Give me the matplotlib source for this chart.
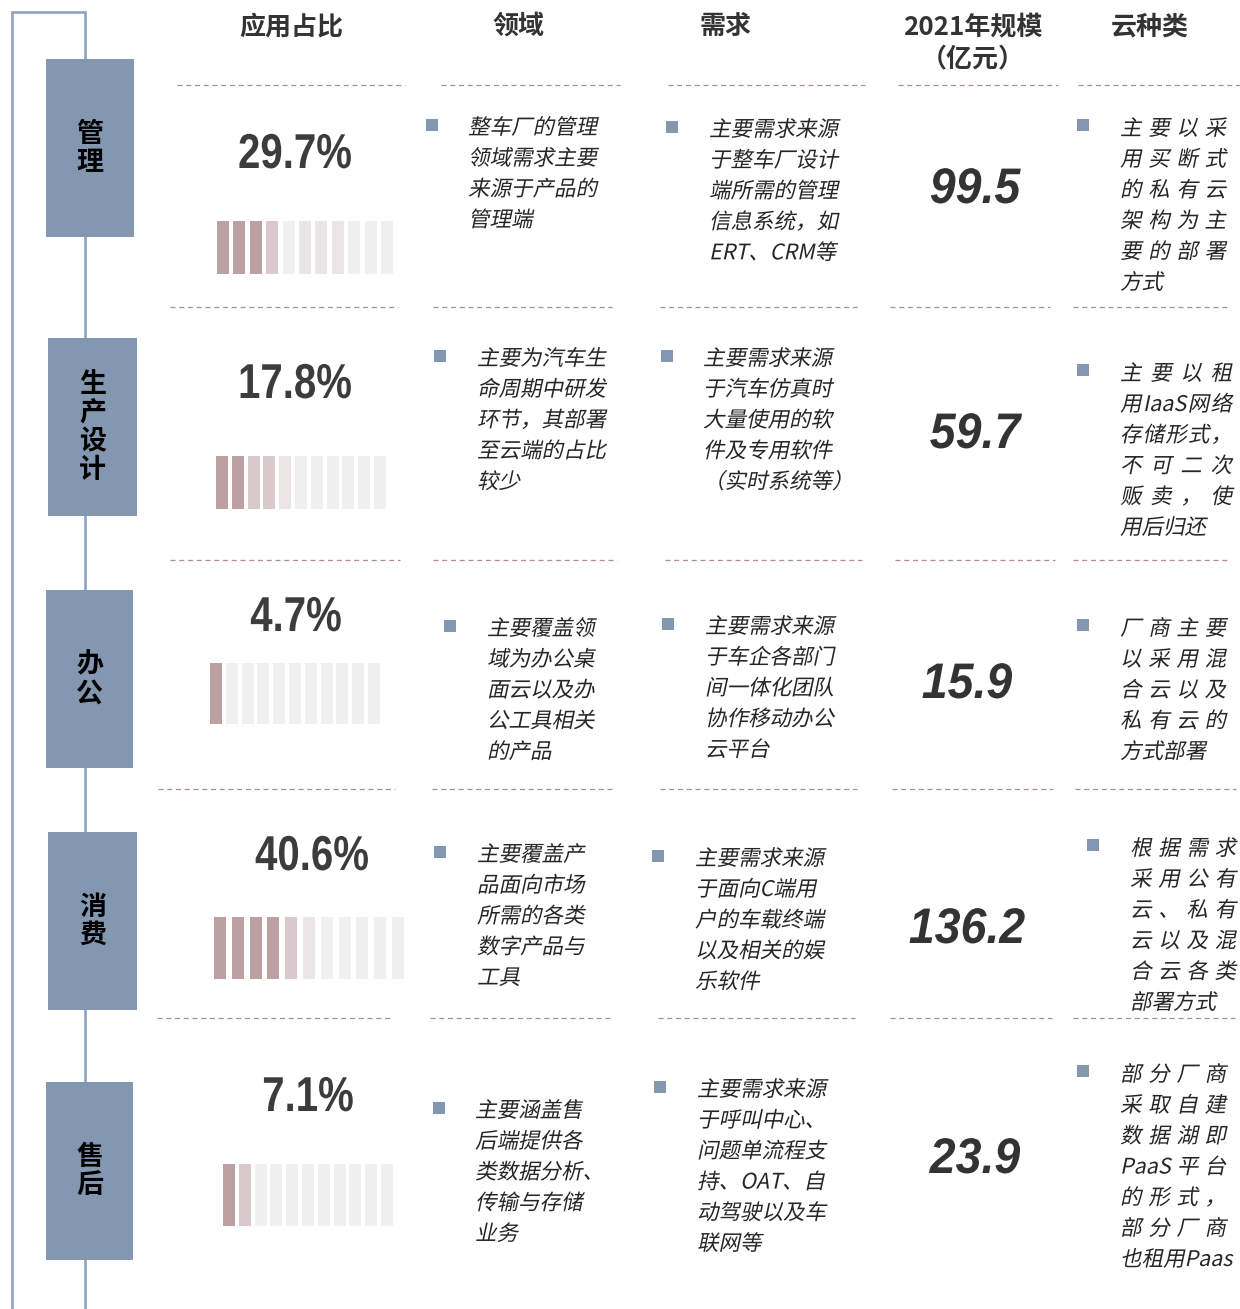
import matplotlib
matplotlib.use("Agg")
import matplotlib.pyplot as plt
import matplotlib.transforms as mtransforms
from matplotlib.textpath import TextPath, TextToPath
from matplotlib.patches import PathPatch, Rectangle
from matplotlib.font_manager import FontProperties

# ---- data ----
fields = ["管理", "生产设计", "办公", "消费", "售后"]
shares = [29.7, 17.8, 4.7, 40.6, 7.1]
scale_2021 = [99.5, 59.7, 15.9, 136.2, 23.9]
headers = ["应用占比", "领域", "需求", "2021年规模\n（亿元）", "云种类"]

# shade level of each of the 11 small bars (3 = dark ... 0 = grey)
bar_levels = [
    [3, 3, 3, 2, 0, 1, 1, 1, 0, 0, 0],
    [3, 3, 2, 2, 1, 0, 0, 0, 0, 0, 0],
    [3, 0, 0, 0, 0, 0, 0, 0, 0, 0, 0],
    [3, 3, 3, 3, 2, 1, 0, 0, 0, 0, 0],
    [3, 2, 0, 0, 0, 0, 0, 0, 0, 0, 0],
]

domain_text = [
    ["整车厂的管理", "领域需求主要", "来源于产品的", "管理端"],
    ["主要为汽车生", "命周期中研发", "环节，其部署", "至云端的占比", "较少"],
    ["主要覆盖领", "域为办公桌", "面云以及办", "公工具相关", "的产品"],
    ["主要覆盖产", "品面向市场", "所需的各类", "数字产品与", "工具"],
    ["主要涵盖售", "后端提供各", "类数据分析、", "传输与存储", "业务"],
]
demand_text = [
    ["主要需求来源", "于整车厂设计", "端所需的管理", "信息系统，如", "ERT、CRM等"],
    ["主要需求来源", "于汽车仿真时", "大量使用的软", "件及专用软件", "（实时系统等）"],
    ["主要需求来源", "于车企各部门", "间一体化团队", "协作移动办公", "云平台"],
    ["主要需求来源", "于面向C端用", "户的车载终端", "以及相关的娱", "乐软件"],
    ["主要需求来源", "于呼叫中心、", "问题单流程支", "持、OAT、自", "动驾驶以及车", "联网等"],
]
cloud_text = [
    ["主要以采", "用买断式", "的私有云", "架构为主", "要的部署", "方式"],
    ["主要以租", "用IaaS网络", "存储形式，", "不可二次", "贩卖，使", "用后归还"],
    ["厂商主要", "以采用混", "合云以及", "私有云的", "方式部署"],
    ["根据需求", "采用公有", "云、私有", "云以及混", "合云各类", "部署方式"],
    ["部分厂商", "采取自建", "数据湖即", "PaaS平台", "的形式，", "部分厂商", "也租用Paas"],
]

# ---- layout (pixels) ----
W, H = 1240, 1309
box_color = "#8497B0"
frame_color = "#8EA3C0"
dash_color = "#B58B8C"
shade = {3: "#BDA1A2", 2: "#D9C9CA", 1: "#EBE5E5", 0: "#F0F0F0"}

box_y = [59, 338, 590, 832, 1082]
box_x = [46, 48, 46, 48, 46]
box_w = [88, 89, 87, 89, 87]
box_h = 178

pct_pos = [(295, 168), (295, 398), (296, 631), (312, 870), (308, 1111)]
bar_pos = [(217, 221, 53), (216, 456, 53), (210, 663, 61), (214, 917, 62), (223, 1164, 62)]
bar_pitch = [16.4, 15.8, 15.8, 17.8, 15.8]
scale_pos = [(975, 203), (975, 448), (967, 698), (967, 943), (975, 1173)]

dom_pos = [(432, 468, 126), (440, 477, 357), (450, 487, 627), (440, 477, 853), (439, 475, 1109)]
dem_pos = [(672, 709, 128), (667, 703, 357), (668, 705, 625), (658, 695, 857), (660, 697, 1088)]
cld_pos = [(1083, 1120, 127), (1083, 1120, 372), (1083, 1120, 627), (1093, 1130, 847), (1083, 1120, 1073)]
cld_width = [106, 112, 106, 106, 106]
line_gap = 30.8

dash_rows = [
    (85, [(177, 405), (441, 620), (668, 865), (898, 1058), (1078, 1240)]),
    (307, [(170, 398), (433, 612), (660, 857), (890, 1050), (1073, 1228)]),
    (560, [(170, 400), (433, 617), (665, 862), (895, 1055), (1073, 1228)]),
    (789, [(158, 395), (432, 612), (660, 857), (892, 1053), (1075, 1236)]),
    (1018, [(157, 392), (430, 610), (658, 855), (890, 1052), (1073, 1235)]),
]

PX = 0.72  # px -> pt at dpi 100

fig = plt.figure(figsize=(W / 100, H / 100), dpi=100)
ax = fig.add_axes([0, 0, 1, 1])
ax.set_xlim(0, W)
ax.set_ylim(H, 0)
ax.axis("off")

cjk = ["Noto Sans CJK SC", "DejaVu Sans"]
body_size = 21.5
body_prop = FontProperties(family=cjk, size=body_size)
t2p = TextToPath()


def tokens(s):
    out = []
    for ch in s:
        if ch.isascii() and ch.isalnum() and out and out[-1][-1].isascii() and out[-1][-1].isalnum():
            out[-1] += ch
        else:
            out.append(ch)
    return out


def italic_text(s, x, yc, width=None, color="#262626"):
    base = yc + 0.38 * body_size
    toks = [s] if width is None else tokens(s)
    widths = [t2p.get_text_width_height_descent(t, body_prop, ismath=False)[0] for t in toks]
    gap = 0
    if width is not None and len(toks) > 1:
        gap = max(0, (width - sum(widths)) / (len(toks) - 1))
    cx = x
    for t, w in zip(toks, widths):
        path = TextPath((0, 0), t, size=body_size, prop=body_prop)
        tr = mtransforms.Affine2D().skew_deg(12, 0).scale(1, -1).translate(cx, base) + ax.transData
        ax.add_patch(PathPatch(path, transform=tr, facecolor=color, edgecolor="none", lw=0))
        cx += w + gap


def number_text(s, xc, base, size, xscale, italic=False, color="#3C3C3C"):
    prop = FontProperties(family=["Liberation Sans", "DejaVu Sans"], weight="bold",
                          style="italic" if italic else "normal", size=size)
    w = t2p.get_text_width_height_descent(s, prop, ismath=False)[0] * xscale
    path = TextPath((0, 0), s, size=size, prop=prop)
    tr = mtransforms.Affine2D().scale(xscale, -1).translate(xc - w / 2, base) + ax.transData
    ax.add_patch(PathPatch(path, transform=tr, facecolor=color, edgecolor="none", lw=0))


def bullet(x, yc):
    ax.add_patch(Rectangle((x - 6, yc - 6), 12, 12, color=box_color, lw=0))


# frame line on the left
ax.plot([12, 12, 85, 85], [H, 12, 12, H], color=frame_color, lw=1.9, solid_joinstyle="miter")

# headers
head_x = [291, 518, 726, 973, 1150]
for hx, ht in zip(head_x, headers):
    ax.text(hx, 13, ht, ha="center", va="top", fontsize=26 * PX, color="#333333",
            family=cjk, fontweight="bold", linespacing=1.25)

# dashed separators
for y, segs in dash_rows:
    for x0, x1 in segs:
        ax.plot([x0, x1], [y, y], color=dash_color, lw=0.9, dashes=(4, 3))

for i in range(len(fields)):
    # category box
    ax.add_patch(Rectangle((box_x[i], box_y[i]), box_w[i], box_h, color=box_color, lw=0, zorder=3))
    chars = list(fields[i])
    cx = box_x[i] + box_w[i] / 2
    cy = box_y[i] + box_h / 2
    n = len(chars)
    for k, ch in enumerate(chars):
        ax.text(cx, cy + (k - (n - 1) / 2) * 28.5, ch, ha="center", va="center",
                fontsize=27 * PX, color="black", family=cjk, fontweight="bold", zorder=4)

    # share value
    px_, py_ = pct_pos[i]
    number_text(f"{shares[i]}%", px_, py_, 49, 0.82)

    # small bars
    bx, by, bh = bar_pos[i]
    xs = [bx + 6 + k * bar_pitch[i] for k in range(len(bar_levels[i]))]
    ax.bar(xs, [bh] * len(xs), bottom=by, width=12,
           color=[shade[l] for l in bar_levels[i]], linewidth=0)

    # scale value
    sx, sy = scale_pos[i]
    number_text(f"{scale_2021[i]}", sx, sy, 50, 0.93, italic=True, color="#333333")

    # text columns
    for (bxx, tx, ty), lines in ((dom_pos[i], domain_text[i]), (dem_pos[i], demand_text[i])):
        bullet(bxx, ty - 1)
        for j, ln in enumerate(lines):
            italic_text(ln, tx, ty + j * line_gap)
    bxx, tx, ty = cld_pos[i]
    bullet(bxx, ty - 2)
    lines = cloud_text[i]
    for j, ln in enumerate(lines):
        wj = cld_width[i] if j < len(lines) - 1 else None
        italic_text(ln, tx, ty + j * line_gap, width=wj)

fig.savefig("out.png", dpi=100)
